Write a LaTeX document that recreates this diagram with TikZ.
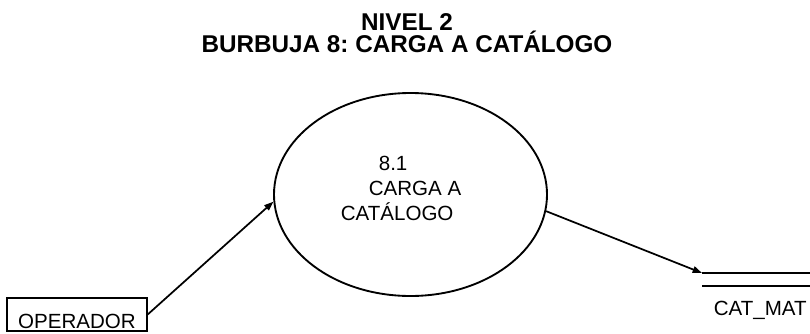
\documentclass[tikz,border=0pt]{standalone}
\usepackage{fontspec}
\setmainfont{Liberation Sans}
\frenchspacing
\usetikzlibrary{arrows.meta, positioning, shapes.geometric}
\tikzset{
  every picture/.style={x=0.75pt, y=-0.75pt, line width=1.3pt},
  bubble/.style={draw, ellipse, inner sep=0pt, minimum width=204.75pt, minimum height=152.25pt, line width=1.4pt},
  extbox/.style={draw, line width=1pt, inner sep=0pt, minimum width=105pt, text height=22.5pt, text depth=2.25pt},
  flow/.style={-{Triangle[length=7pt, width=5pt]}},
  lbl/.style={inner sep=0pt, anchor=base west, font=\fontsize{15.4}{18}\selectfont},
  title/.style={font=\fontsize{18.2}{16.5}\selectfont\bfseries, align=center},
}
\begin{document}
\begin{tikzpicture}
  \useasboundingbox (0,0) rectangle (810,333);
  \node[title] (ttl) at (407,33) {NIVEL 2\\BURBUJA 8: CARGA A CATÁLOGO};
  % process bubble
  \node[bubble] (p81) at (410.5,194.5) {};
  \node[lbl] (p81num) at (378,170) {8.1};
  \node[lbl] (p81a) at (368,195) {CARGA A};
  \node[lbl] (p81b) at (340,220) {CATÁLOGO};
  % external entity
  \node[extbox, font=\fontsize{15.4}{18}\selectfont] (oper) at (77,314.5) {OPERADOR};
  % data store
  \coordinate (cattop) at (702,273); \coordinate (catbot) at (702,286);
  \draw (cattop) -- (810,273); \draw (catbot) -- (810,286);
  \node[lbl] (catlbl) at (713,315) {CAT\_MAT};
  \draw[flow] (oper.east) -- (p81.183);
  \draw[flow] (p81.-7) -- (cattop);
\end{tikzpicture}
\end{document}
